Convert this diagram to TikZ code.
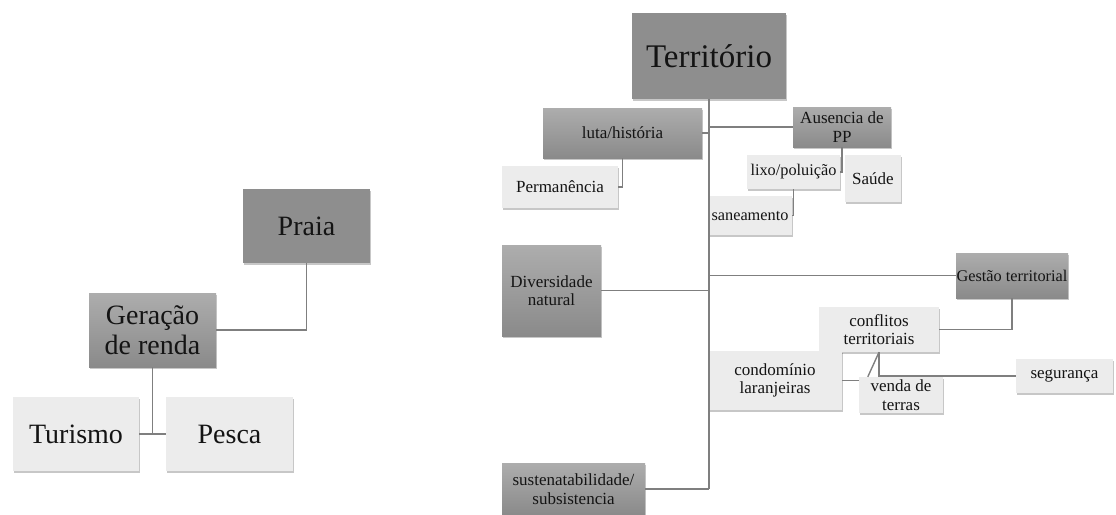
\documentclass[tikz,border=0pt]{standalone}
\usepackage{fontspec}
\setmainfont{Liberation Serif}
\usetikzlibrary{shadows}
\definecolor{darkbox}{HTML}{8E8E8E}
\definecolor{midtop}{HTML}{ADADAD}
\definecolor{midbot}{HTML}{8A8A8A}
\definecolor{lightbox}{HTML}{ECECEC}
\definecolor{linecol}{HTML}{7F7F7F}
\definecolor{txt}{HTML}{141414}
\tikzset{
  basebox/.style={inner sep=0pt, align=center, text=txt,
    drop shadow={shadow xshift=1.2pt, shadow yshift=-1.8pt, fill=black, opacity=0.22}},
  darkb/.style={basebox, fill=darkbox},
  midb/.style={basebox, top color=midtop, bottom color=midbot},
  lightb/.style={basebox, fill=lightbox},
  big/.style={font=\fontsize{28}{30}\selectfont},
  huge/.style={font=\fontsize{33}{35}\selectfont},
  small/.style={font=\fontsize{17}{18.5}\selectfont},
  smaller/.style={font=\fontsize{16.3}{18}\selectfont},
  conn/.style={draw=linecol, line width=1.4pt},
  sz/.style 2 args={minimum width=#1, minimum height=#2}
}
\begin{document}
\begin{tikzpicture}[x=1pt,y=-1pt]
\useasboundingbox (0,0) rectangle (1116,514);
% left diagram
\node[darkb, big, sz={127pt}{74pt}] (praia) at (306.5,226) {Praia};
\node[midb, big, sz={127pt}{74pt}] (gera) at (152.5,330) {Geração\\de renda};
\node[lightb, big, sz={126pt}{74pt}] (tur) at (76,434) {Turismo};
\node[lightb, big, sz={127pt}{74pt}] (pesca) at (229.5,434) {Pesca};
% right diagram
\node[darkb, huge, sz={154pt}{86pt}] (terr) at (709,56) {Território};
\node[midb, small, sz={159pt}{50pt}] (luta) at (622.5,133) {luta/história};
\node[midb, small, sz={98pt}{40pt}] (aus) at (842,127) {Ausencia de\\PP};
\node[lightb, small, sz={116pt}{42pt}] (perm) at (560,187) {Permanência};
\node[lightb, smaller, sz={93pt}{34pt}] (lixo) at (793.5,172) {lixo/poluição};
\node[lightb, small, sz={56pt}{47pt}] (saude) at (873,178.5) {Saúde};
\node[lightb, smaller, sz={84pt}{39pt}] (san) at (750,215.5) {saneamento};
\node[midb, small, sz={99pt}{91pt}] (div) at (551.5,290.5) {Diversidade\\natural};
\node[midb, smaller, sz={112pt}{45pt}] (gest) at (1012,275.5) {Gestão territorial};
\node[lightb, small, sz={120pt}{45pt}] (conf) at (879,329.5) {conflitos\\territoriais};
\node[lightb, small, sz={134pt}{59pt}] (cond) at (775,380.5) {condomínio\\laranjeiras};
\node[lightb, small, sz={84pt}{36pt}] (venda) at (901,395) {venda de\\terras};
\node[lightb, small, sz={97pt}{34pt}] (seg) at (1064.5,376) {segurança};
\node[midb, small, sz={143pt}{52pt}] (sust) at (573.5,489) {sustenatabilidade/\\subsistencia};
% connectors left
\draw[conn] (praia.south) |- (gera.east);
\draw[conn] (gera.south) -- (gera.south |- tur.east);
\draw[conn] (tur.east) -- (pesca.west);
% connectors right
\draw[conn] (terr.south) -- (terr.south |- sust.east);
\draw[conn] (luta.east) -- (luta.east -| terr.south);
\draw[conn] (aus.west) -- (aus.west -| terr.south);
\draw[conn] (luta.south) |- (perm.east);
\draw[conn] (aus.south) |- (lixo.east);
\draw[conn] (lixo.south) |- (san.east);
\draw[conn] (div.east) -- (div.east -| terr.south);
\draw[conn] (gest.west) -- (gest.west -| terr.south);
\draw[conn] (gest.south) |- (conf.east);
\draw[conn] (conf.south) |- (seg.west);
\draw[conn] (conf.south) -- ([xshift=9pt]venda.north west);
\draw[conn] (cond.east) -- (cond.east -| venda.west);
\draw[conn] (sust.east) -- (sust.east -| terr.south);
\end{tikzpicture}
\end{document}
